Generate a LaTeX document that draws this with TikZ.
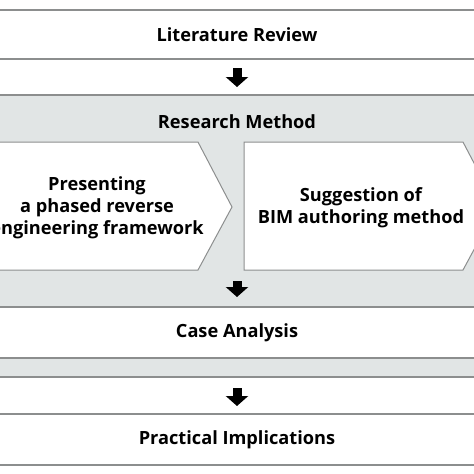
\documentclass[tikz,border=0pt]{standalone}
\usepackage{fontspec}
\setmainfont{Open Sans}
\usetikzlibrary{arrows.meta}
\definecolor{bandgray}{RGB}{225,229,229}
\definecolor{linegray}{RGB}{140,142,142}
\tikzset{
  hline/.style={draw=linegray, line width=1.4pt},
  lbl/.style={font=\fontsize{18.2}{22}\selectfont\bfseries, align=center, text=black},
  blockarrow/.style={line width=9pt, -{Triangle[width=22pt,length=10pt]}, black},
  penta/.style={fill=white, draw=linegray, line width=1pt}
}
\begin{document}
\begin{tikzpicture}[x=1pt,y=-1pt]
\useasboundingbox (0,0) rectangle (474,474);
\clip (0,0) rectangle (474,474);
% band background
\fill[bandgray] (-10,95) rectangle (484,377);
\draw[hline] (-10,95) -- (484,95);
\draw[hline] (-10,377) -- (484,377);
% literature review
\draw[hline] (-10,10) -- (484,10);
\draw[hline] (-10,59) -- (484,59);
\node[lbl] (lit) at (237,35) {Literature Review};
\coordinate (litb) at (237,59);
\coordinate (bandt) at (237,95);
% research method
\node[lbl] (rm) at (237,122) {Research Method};
% pentagons
\path[penta] (-40,142) -- (198,142) -- (232,207) -- (198,270) -- (-40,270) -- cycle;
\path[penta] (244,142) -- (463,142) -- (497,207) -- (463,270) -- (244,270) -- cycle;
\node[lbl] (p1) at (97,208) {Presenting\\a phased reverse\\engineering framework};
\node[lbl] (p2) at (361,208) {Suggestion of\\BIM authoring method};
\coordinate (pb) at (237,270);
% case analysis
\fill[white] (-10,307) rectangle (484,358);
\draw[hline] (-10,307) -- (484,307);
\draw[hline] (-10,358) -- (484,358);
\node[lbl] (case) at (237,333) {Case Analysis};
\coordinate (caset) at (237,307);
\coordinate (bandb) at (237,377);
% practical implications
\draw[hline] (-10,414) -- (484,414);
\draw[hline] (-10,465) -- (484,465);
\node[lbl] (prac) at (237,440) {Practical Implications};
\coordinate (pract) at (237,414);
% arrows
\draw[blockarrow, shorten <=9pt, shorten >=8pt] (litb) -- (bandt);
\draw[blockarrow, shorten <=11pt, shorten >=10pt] (pb) -- (caset);
\draw[blockarrow, shorten <=11pt, shorten >=8pt] (bandb) -- (pract);
\end{tikzpicture}
\end{document}
